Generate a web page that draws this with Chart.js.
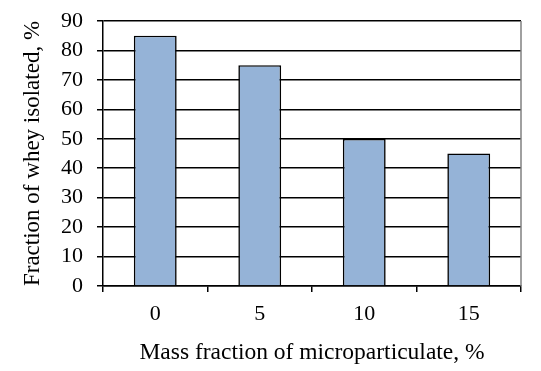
<!DOCTYPE html>
<html><head><meta charset="utf-8">
<script src="https://cdn.jsdelivr.net/npm/chart.js@4/dist/chart.umd.min.js"></script>
<style>html,body{margin:0;padding:0;background:#fff}#wrap{width:541px;height:371px;position:relative}</style>
</head><body><div id="wrap"><canvas id="c" width="541" height="371"></canvas></div>
<script>
const categories = ["0", "5", "10", "15"];
const wheyIsolated = [85, 75, 50, 45];
const yTitle = "Fraction of whey isolated, %";
const xTitle = "Mass fraction of microparticulate, %";

const frame = {
  id: 'frame',
  afterDraw(chart) {
    const a = chart.chartArea, ctx = chart.ctx;
    ctx.save();
    ctx.strokeStyle = '#808080';
    ctx.lineWidth = 1.5;
    ctx.beginPath();
    ctx.moveTo(a.right, a.top);
    ctx.lineTo(a.right, a.bottom);
    ctx.stroke();
    ctx.restore();
  }
};

new Chart(document.getElementById('c'), {
  type: 'bar',
  data: {
    labels: categories,
    datasets: [{
      data: wheyIsolated,
      backgroundColor: '#95B3D7',
      borderColor: '#000000',
      borderWidth: 1.6,
      categoryPercentage: 1,
      barPercentage: 0.41
    }]
  },
  options: {
    responsive: false,
    animation: false,
    devicePixelRatio: 1,
    layout: { padding: { left: 19, right: 20, top: 21, bottom: 4 } },
    plugins: { legend: { display: false }, tooltip: { enabled: false } },
    scales: {
      x: {
        afterFit(s) { s.height = 81; s.paddingLeft = 0; s.paddingRight = 0; },
        grid: { offset: true, drawOnChartArea: false, drawTicks: true, tickLength: 6, color: '#000', lineWidth: 1.5 },
        border: { color: '#000', width: 1.5 },
        ticks: { color: '#000', font: { family: 'Liberation Serif', size: 22 }, padding: 9, autoSkip: false, maxRotation: 0 },
        title: { display: true, text: xTitle, color: '#000', font: { family: 'Liberation Serif', size: 23.5 }, padding: { top: 11, bottom: 0 } }
      },
      y: {
        min: 0, max: 90,
        afterFit(s) { s.width = 84; s.paddingTop = 0; s.paddingBottom = 0; },
        ticks: { stepSize: 10, color: '#000', font: { family: 'Liberation Serif', size: 22 }, padding: 14, autoSkip: false },
        grid: { color: '#000', lineWidth: 1.5, tickLength: 6 },
        border: { color: '#000', width: 1.5 },
        title: { display: true, text: yTitle, color: '#000', font: { family: 'Liberation Serif', size: 23 }, padding: { top: 0, bottom: 14 } }
      }
    }
  },
  plugins: [frame]
});
</script></body></html>
